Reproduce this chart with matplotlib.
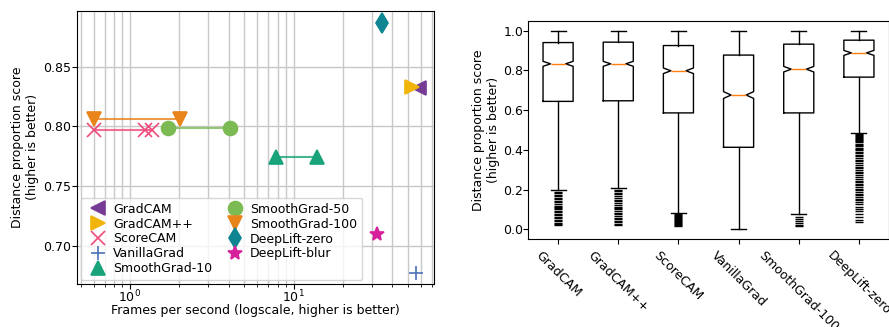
import matplotlib
matplotlib.use("Agg")
import matplotlib.pyplot as plt

# ---- left panel: speed vs. score ----
methods = ["GradCAM", "GradCAM++", "ScoreCAM", "VanillaGrad", "SmoothGrad-10",
           "SmoothGrad-50", "SmoothGrad-100", "DeepLift-zero", "DeepLift-blur"]
fps = [[58.0], [53.0], [0.6, 1.24, 1.36], [56.0], [7.77, 13.9],
       [1.71, 4.07], [0.6, 2.02], [34.3], [32.2]]
score = [0.832, 0.833, 0.797, 0.6775, 0.7747, 0.7989, 0.8059, 0.887, 0.7099]
markers = ["<", ">", "x", "+", "^", "o", "v", "d", "*"]
colors = ["#763c95", "#f0b40a", "#ef4b7a", "#4a72b5", "#18a37a",
          "#7cba53", "#e8841a", "#0e8591", "#d81f9b"]

# ---- right panel: score distributions ----
box_labels = ["GradCAM", "GradCAM++", "ScoreCAM", "VanillaGrad",
              "SmoothGrad-100", "DeepLift-zero"]
q1 = [0.644, 0.647, 0.586, 0.413, 0.586, 0.766]
med = [0.833, 0.833, 0.798, 0.676, 0.806, 0.888]
q3 = [0.940, 0.942, 0.925, 0.877, 0.932, 0.952]
whislo = [0.199, 0.207, 0.084, 0.002, 0.075, 0.487]
whishi = [1.0, 1.0, 1.0, 1.0, 1.0, 1.0]
notch_half = [0.0125, 0.0125, 0.014, 0.017, 0.014, 0.0125]
fliers = [
    [0.19, 0.185, 0.175, 0.17, 0.16, 0.155, 0.145, 0.14, 0.13, 0.12, 0.115,
     0.105, 0.1, 0.09, 0.085, 0.075, 0.07, 0.06, 0.055, 0.045, 0.04, 0.03,
     0.025, 0.02],
    [0.2, 0.195, 0.185, 0.18, 0.17, 0.16, 0.15, 0.145, 0.135, 0.125, 0.115,
     0.11, 0.1, 0.09, 0.08, 0.075, 0.065, 0.055, 0.05, 0.04, 0.035, 0.025,
     0.02],
    [0.075, 0.07, 0.065, 0.06, 0.055, 0.05, 0.045, 0.04, 0.035, 0.03,
     0.025, 0.02, 0.015],
    [],
    [0.062, 0.052, 0.042, 0.032, 0.024, 0.018],
    [0.48, 0.475, 0.47, 0.465, 0.46, 0.455, 0.45, 0.445, 0.44, 0.43, 0.425,
     0.42, 0.41, 0.405, 0.4, 0.39, 0.385, 0.375, 0.37, 0.36, 0.35, 0.345,
     0.335, 0.325, 0.315, 0.31, 0.3, 0.29, 0.285, 0.275, 0.265, 0.255, 0.245,
     0.24, 0.23, 0.225, 0.215, 0.205, 0.2, 0.19, 0.18, 0.175, 0.165, 0.155,
     0.15, 0.14, 0.13, 0.115, 0.1, 0.09, 0.075, 0.06, 0.045, 0.035],
]

plt.rcParams["font.size"] = 9

fig = plt.figure(figsize=(8.89, 3.27), dpi=100)
W, H = 889, 327

ax1 = fig.add_axes([77 / W, (H - 284) / H, (434 - 77) / W, (284 - 10.7) / H])
for m, f, s, mk, c in zip(methods, fps, score, markers, colors):
    if len(f) > 1:
        ax1.plot(f, [s] * len(f), "-", color=c, lw=1.5, alpha=0.8, zorder=2)
    ax1.plot(f, [s] * len(f), linestyle="", marker=mk, color=c, ms=10,
             mew=1.2, label=m, zorder=3)
ax1.set_xscale("log")
ax1.set_xlim(0.475, 71.7)
ax1.set_ylim(0.668, 0.897)
ax1.set_yticks([0.70, 0.75, 0.80, 0.85])
ax1.grid(True, which="both", color="#c8c8c8", lw=1)
ax1.set_axisbelow(True)
ax1.tick_params(axis="x", pad=0)
ax1.tick_params(axis="y", pad=1)
ax1.set_xlabel("Frames per second (logscale, higher is better)", labelpad=-1)
ax1.set_ylabel("Distance proportion score\n(higher is better)", labelpad=2.5)
ax1.legend(loc="lower left", ncol=2, numpoints=1,
           labelspacing=0.15, handletextpad=0.2, columnspacing=0.8,
           borderaxespad=0.3)

ax2 = fig.add_axes([528 / W, (H - 239.3) / H, 361 / W, (239.3 - 20.7) / H])
stats = []
for i in range(len(box_labels)):
    stats.append(dict(label=box_labels[i], q1=q1[i], med=med[i], q3=q3[i],
                      whislo=whislo[i], whishi=whishi[i], fliers=fliers[i],
                      cilo=med[i] - notch_half[i], cihi=med[i] + notch_half[i]))
ax2.bxp(stats, shownotches=True, showfliers=True,
        flierprops=dict(marker="_", markeredgecolor="black", markersize=6),
        medianprops=dict(color="#ff7f0e"))
ax2.set_xlim(0.5, 6.5)
ax2.set_ylim(-0.05, 1.05)
ax2.set_yticks([0.0, 0.2, 0.4, 0.6, 0.8, 1.0])
ax2.tick_params(axis="y", pad=0)
ax2.set_ylabel("Distance proportion score\n(higher is better)", labelpad=2)
plt.setp(ax2.get_xticklabels(), rotation=-45)

fig.savefig("out.png", dpi=100)
